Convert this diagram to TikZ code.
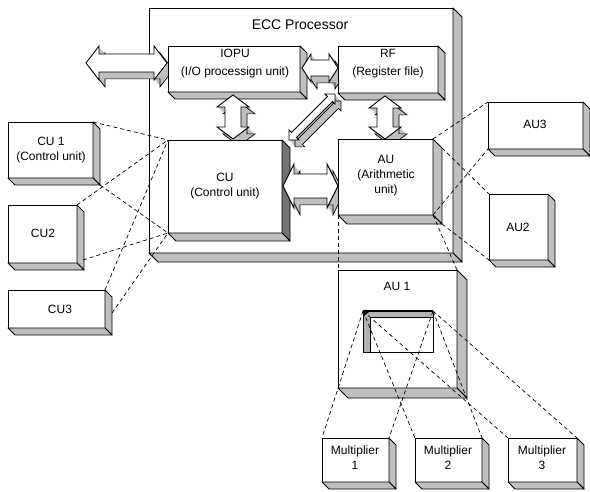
\documentclass[tikz,border=0pt]{standalone}
\usepackage{fontspec}
\setmainfont{Liberation Sans}
\usetikzlibrary{calc}

\tikzset{
  cubeface/.style={draw=black, line width=0.9pt, fill=white, inner sep=0pt, outer sep=0pt},
  sideface/.style={draw=black, line width=0.9pt, fill=black!25, line join=round},
  darkface/.style={sideface, fill=black!55},
  arrowface/.style={draw=black, line width=0.9pt, fill=white, line join=miter},
  arrowdepth/.style={fill=black!25},
  arrowedge/.style={draw=black, line width=0.7pt},
  dashline/.style={draw=black, line width=0.7pt, dash pattern=on 4pt off 3pt},
  lbl/.style={align=center, font=\fontsize{12}{15}\selectfont, inner sep=0pt},
}

% solid block: [right face style] name, x1, y1, x2, y2, depth
\newcommand{\solidblock}[7][sideface]{%
  \pgfmathsetmacro\blkw{#5-#3}%
  \pgfmathsetmacro\blkh{#6-#4}%
  \node[cubeface, minimum width=\blkw pt, minimum height=\blkh pt] (#2) at ({(#3+#5)/2},{(#4+#6)/2}) {};
  \filldraw[#1] (#2.north east) -- ++(#7,#7) -- ($(#2.south east)+(#7,#7)$) -- (#2.south east) -- cycle;
  \filldraw[sideface] (#2.south west) -- (#2.south east) -- ++(#7,#7) -- ($(#2.south west)+(#7,#7)$) -- cycle;
}

% double block arrow: x, y (first tip), length, angle, body half width, head half width, head length
\newcommand{\blockarrow}[7]{%
  \foreach \k in {1,...,6}{%
    \begin{scope}[shift={({#1+\k},{#2+1.15*\k})},rotate=#4]
      \fill[arrowdepth] (0,0) -- (#7,-#6) -- (#7,-#5) -- ({#3-#7},-#5) -- ({#3-#7},-#6) -- (#3,0)
        -- ({#3-#7},#6) -- ({#3-#7},#5) -- (#7,#5) -- (#7,#6) -- cycle;
    \end{scope}}
  \begin{scope}[shift={({#1+6},{#2+6.9})},rotate=#4]
    \draw[arrowedge] (0,0) -- (#7,-#6) -- (#7,-#5) -- ({#3-#7},-#5) -- ({#3-#7},-#6) -- (#3,0)
      -- ({#3-#7},#6) -- ({#3-#7},#5) -- (#7,#5) -- (#7,#6) -- cycle;
  \end{scope}
  \begin{scope}[shift={(#1,#2)},rotate=#4]
    \filldraw[arrowface] (0,0) -- (#7,-#6) -- (#7,-#5) -- ({#3-#7},-#5) -- ({#3-#7},-#6) -- (#3,0)
      -- ({#3-#7},#6) -- ({#3-#7},#5) -- (#7,#5) -- (#7,#6) -- cycle;
  \end{scope}
}

\begin{document}
\begin{tikzpicture}[x=1pt,y=-1pt]
  \fill[white] (0,0) rectangle (590,492);
  \useasboundingbox (0,0) rectangle (590,492);

  % processor enclosure
  \solidblock{ecc}{149}{8}{453}{253}{9}
  \node[font=\fontsize{14}{16}\selectfont, inner sep=0pt] (ecct) at (300,25) {ECC Processor};

  % external I/O arrow
  \blockarrow{86}{63}{81}{0}{9}{17}{13}

  % processor units and the buses between them
  \solidblock{iopu}{168}{46}{300}{92}{7}
  \blockarrow{233}{95}{44}{-90}{8}{16}{12}
  \solidblock[darkface]{cu}{168}{140}{282}{233}{8}
  \blockarrow{283}{186}{55}{0}{12}{22}{11}
  \blockarrow{289}{140}{65}{45}{3.5}{7}{7}
  \blockarrow{302}{68}{36}{0}{8}{14}{9}
  \solidblock{rf}{338}{46}{438}{93}{7}
  \blockarrow{385}{96}{43}{-90}{8}{16}{12}
  \solidblock{au}{338}{139}{433}{215}{9}

  % arithmetic unit 1 with its opening
  \solidblock{au1}{338}{270}{457}{388}{10}
  \node[draw=black, line width=0.9pt, inner sep=0pt, outer sep=0pt, minimum width=70pt, minimum height=41pt] (au1in) at (398,331.5) {};
  \filldraw[draw=black, line width=0.9pt, fill=black!30]
    (au1in.north west) -- (au1in.north east) -- ($(au1in.north east)+(0,6)$) -- ($(au1in.north west)+(7,6)$)
    -- ($(au1in.south west)+(7,0)$) -- (au1in.south west) -- cycle;
  \draw[line width=1.6pt] (au1in.north west) -- (au1in.north east);
  \fill (au1in.north west) -- ++(7,0) -- ++(-7,6) -- cycle;

  % outer control units
  \solidblock{cu1}{8}{122}{93}{178}{7}
  \solidblock{cu2}{8}{205}{77}{263}{7}
  \solidblock{cu3}{8}{290}{105}{328}{7}

  % outer arithmetic units
  \solidblock{au3}{488}{102}{583}{149}{7}
  \solidblock{au2}{489}{194}{548}{260}{7}

  % multipliers
  \solidblock{m1}{322}{438}{389}{482}{7}
  \solidblock{m2}{415}{438}{482}{482}{7}
  \solidblock{m3}{508}{438}{577}{482}{7}

  % projection lines
  \draw[dashline] (cu1.north east) -- (cu.north west);
  \draw[dashline] ($(cu1.south east)+(7,7)$) -- (cu.south west);
  \draw[dashline] (cu2.north east) -- (cu.north west);
  \draw[dashline] ($(cu2.south east)+(6,-3)$) -- (cu.south west);
  \draw[dashline] (cu3.north east) -- (cu.north west);
  \draw[dashline] ($(cu3.east)+(7,4)$) -- (cu.south west);

  \draw[dashline] (au.north east) -- (au3.north west);
  \draw[dashline] ($(au.north east)+(9,9)$) -- (au2.north west);
  \draw[dashline] (au.south east) -- (au3.south west);
  \draw[dashline] ($(au.south east)+(9,9)$) -- (au2.south west);
  \draw[dashline] (au.south west) -- (au1.north west);
  \draw[dashline] (au.south east) -- (au1.north east);

  \draw[dashline] (au1in.north west) -- (m1.north west);
  \draw[dashline] (au1in.north west) -- (m2.north west);
  \draw[dashline] (au1in.north west) -- (m3.north west);
  \draw[dashline] (au1in.north east) -- (m1.north east);
  \draw[dashline] (au1in.north east) -- (m2.north east);
  \draw[dashline] (au1in.north east) -- (m3.north east);

  % labels
  \node[lbl, font=\fontsize{12}{18}\selectfont] (iopul) at (235,64) {IOPU\\(I/O processign unit)};
  \node[lbl, font=\fontsize{12}{18}\selectfont] (rfl) at (388,64) {RF\\(Register file)};
  \node[lbl] (cul) at (225,186) {CU\\(Control unit)};
  \node[lbl] (aul) at (386,176) {AU\\(Arithmetic\\unit)};
  \node[lbl] (au1l) at (397,286) {AU 1};
  \node[lbl] (cu1l) at (51,150) {CU 1\\(Control unit)};
  \node[lbl] (cu2l) at (43,233) {CU2};
  \node[lbl] (cu3l) at (60,309) {CU3};
  \node[lbl] (au3l) at (535,124) {AU3};
  \node[lbl] (au2l) at (518,227) {AU2};
  \node[lbl] (m1l) at (355,458) {Multiplier\\1};
  \node[lbl] (m2l) at (448,458) {Multiplier\\2};
  \node[lbl] (m3l) at (542,458) {Multiplier\\3};
\end{tikzpicture}
\end{document}
